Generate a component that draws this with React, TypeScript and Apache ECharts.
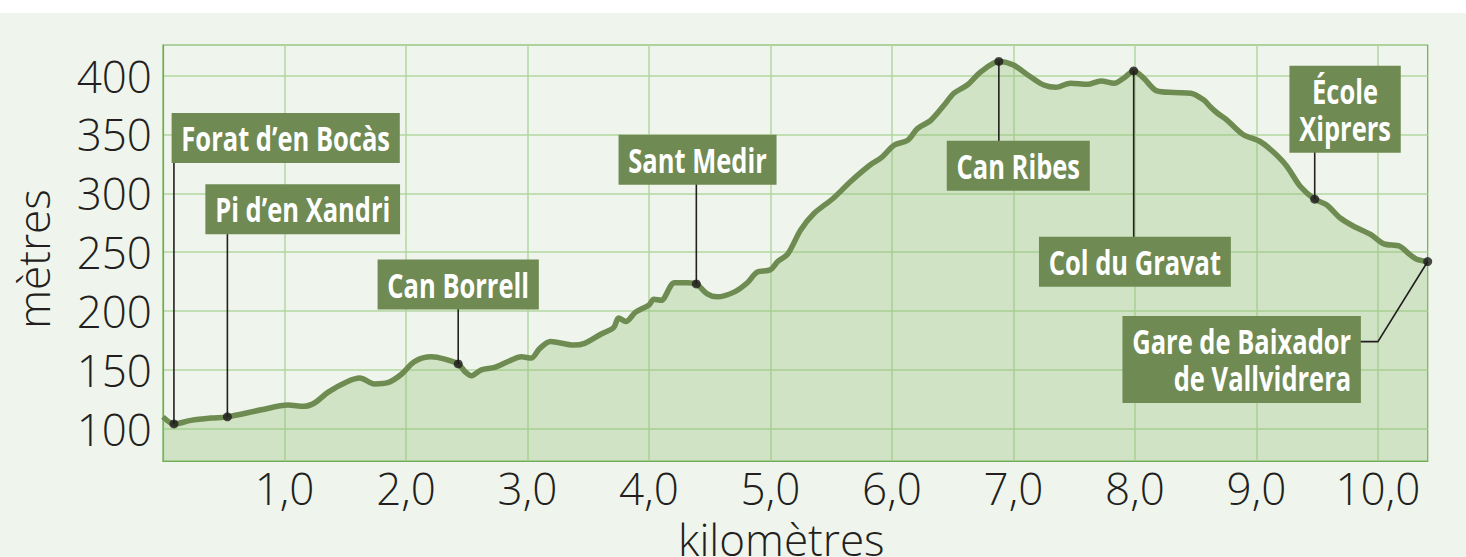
import React, { useEffect, useRef } from 'react';
import * as echarts from 'echarts';

// Elevation profile (km, metres)
const distanceKm = [
  0.0, 0.09, 0.23, 0.40, 0.53, 0.81, 1.03, 1.16, 1.25, 1.36,
  1.52, 1.62, 1.74, 1.85, 1.96, 2.07, 2.21, 2.32, 2.43, 2.49,
  2.54, 2.62, 2.73, 2.84, 2.95, 3.03, 3.10, 3.19, 3.38, 3.47,
  3.60, 3.71, 3.75, 3.81, 3.89, 4.00, 4.04, 4.10, 4.21, 4.32,
  4.39, 4.48, 4.56, 4.70, 4.81, 4.89, 5.00, 5.06, 5.14, 5.25,
  5.36, 5.52, 5.66, 5.82, 5.91, 6.02, 6.13, 6.21, 6.32, 6.43,
  6.51, 6.62, 6.73, 6.88, 7.00, 7.14, 7.25, 7.35, 7.47, 7.61,
  7.72, 7.83, 7.91, 7.99, 8.07, 8.18, 8.32, 8.46, 8.57, 8.62,
  8.68, 8.76, 8.89, 9.03, 9.14, 9.25, 9.36, 9.48, 9.58, 9.69,
  9.80, 9.94, 10.05, 10.18, 10.25, 10.32, 10.41,
];
const elevationM = [
  110, 104, 107, 109, 110, 116, 120, 119, 122, 131,
  140, 143, 138, 139, 146, 157, 161, 159, 155, 148,
  145, 150, 152, 157, 161, 160, 168, 174, 171, 172.5,
  180, 186, 194, 191, 199, 205, 210, 209, 224, 224,
  223, 214.5, 212, 216, 224, 233, 235, 242, 248, 269,
  283, 296, 310, 324, 330, 341, 345, 355, 362, 375,
  385, 392, 403, 412, 409, 399, 392, 390, 393.5, 392.6,
  395.5, 393.5, 398, 404, 398, 387, 385.6, 385, 379, 373.6,
  368, 362, 350, 344, 335, 323, 306, 295, 290, 279,
  272, 265, 257, 255, 249, 244, 242,
];

const xTickValues = [1, 2, 3, 4, 5, 6, 7, 8, 9, 10];
const yTickValues = [100, 150, 200, 250, 300, 350, 400];

// Places along the route
const placeNames = [
  'Forat d’en Bocàs',
  'Pi d’en Xandri',
  'Can Borrell',
  'Sant Medir',
  'Can Ribes',
  'Col du Gravat',
  'École\nXiprers',
  'Gare de Baixador\nde Vallvidrera',
];
const placeKm = [0.09, 0.53, 2.43, 4.39, 6.88, 7.99, 9.48, 10.41];
const placeElev = [104, 110, 155, 223, 412, 404, 295, 242];
// label anchor (data coordinates)
const labelKm = [1.01, 1.15, 2.43, 4.40, 7.04, 8.0, 9.73, 9.86];
const labelElev = [347, 286.5, 222.4, 328.4, 323.3, 241.8, 371.3, 158.8];
const labelAlign = ['center', 'center', 'center', 'center', 'center', 'center', 'center', 'right'];
const elbowKm: (number | null)[] = [null, null, null, null, null, null, null, 10.0];
const elbowElev: (number | null)[] = [null, null, null, null, null, null, null, 173.9];

const LINE_GREEN = '#6E8B52';
const BOX_GREEN = '#6F8A52';
const GRID_GREEN = '#B3D6A0';
const FRAME_GREEN = '#6FAD55';
const BG = '#EFF5EC';
const AXIS_FONT = "'Open Sans', 'Noto Sans', sans-serif";
const LABEL_FONT = "'Open Sans', 'Noto Sans', sans-serif";
const LABEL_SCALE_X = 0.75;

export default function App() {
  const ref = useRef<HTMLDivElement>(null);
  useEffect(() => {
    document.body.style.margin = '0';
    const chart = echarts.init(ref.current!, null, { renderer: 'svg' });
    const profile = distanceKm.map((d, i) => [d, elevationM[i]]);
    const places = placeKm.map((d, i) => [d, placeElev[i], labelKm[i], labelElev[i]]);
    chart.setOption({
      animation: false,
      backgroundColor: BG,
      grid: {
        left: 163,
        right: 38.3,
        top: 32,
        bottom: 96,
        outerBoundsMode: 'none',
        containLabel: false,
        show: true,
        borderColor: FRAME_GREEN,
        borderWidth: 1.2,
        backgroundColor: 'transparent',
      },
      xAxis: {
        type: 'value',
        min: 0,
        max: 10.41,
        name: 'kilomètres',
        nameLocation: 'middle',
        nameGap: 60,
        nameTextStyle: {
          fontFamily: AXIS_FONT,
          fontWeight: 300,
          fontSize: 44,
          lineHeight: 36,
          color: '#231F20',
          padding: [0, 28, 0, 0],
        },
        axisLine: { show: true, lineStyle: { color: FRAME_GREEN, width: 1.2 } },
        axisTick: { show: false, customValues: xTickValues },
        axisLabel: {
          customValues: xTickValues,
          formatter: (v: number) => v.toFixed(1).replace('.', ','),
          fontFamily: AXIS_FONT,
          fontWeight: 300,
          fontSize: 44,
          lineHeight: 36,
          color: '#231F20',
          margin: 9,
        },
        splitLine: { show: true, lineStyle: { color: GRID_GREEN, width: 1.5 } },
      },
      yAxis: {
        type: 'value',
        min: 72.5,
        max: 426,
        name: 'mètres',
        nameLocation: 'middle',
        nameGap: 108,
        nameRotate: 90,
        nameTextStyle: {
          fontFamily: AXIS_FONT,
          fontWeight: 300,
          fontSize: 44,
          color: '#231F20',
          padding: [0, 12, 0, 0],
        },
        axisLine: { show: true, lineStyle: { color: FRAME_GREEN, width: 1.2 } },
        axisTick: { show: false, customValues: yTickValues },
        axisLabel: {
          customValues: yTickValues,
          fontFamily: AXIS_FONT,
          fontWeight: 300,
          fontSize: 44,
          color: '#231F20',
          margin: 11,
        },
        splitLine: { show: true, lineStyle: { color: GRID_GREEN, width: 1.5 } },
      },
      series: [
        {
          type: 'line',
          data: profile,
          smooth: 0.3,
          symbol: 'none',
          lineStyle: { color: LINE_GREEN, width: 5.5 },
          areaStyle: { color: 'rgba(148,194,122,0.48)', origin: 'start' },
          z: 2,
        },
        {
          type: 'custom',
          clip: false,
          z: 3,
          data: places,
          renderItem: (params: any, api: any) => {
            const i = params.dataIndex;
            const dot = api.coord([api.value(0), api.value(1)]);
            const lab = api.coord([api.value(2), api.value(3)]);
            let points: number[][];
            if (elbowKm[i] != null) {
              const el = api.coord([elbowKm[i], elbowElev[i]]);
              points = [dot, el, [lab[0] - 4, el[1]]];
            } else {
              points = [dot, [dot[0], lab[1]]];
            }
            return {
              type: 'group',
              children: [
                {
                  type: 'polyline',
                  shape: { points },
                  style: { stroke: '#231F20', lineWidth: 1.6, fill: null },
                },
                {
                  type: 'text',
                  x: lab[0],
                  y: lab[1],
                  scaleX: LABEL_SCALE_X,
                  style: {
                    text: placeNames[i],
                    fill: '#FFFFFF',
                    fontFamily: LABEL_FONT,
                    fontWeight: 'bold',
                    fontSize: 34,
                    lineHeight: 37,
                    align: labelAlign[i],
                    verticalAlign: 'middle',
                    backgroundColor: BOX_GREEN,
                    padding: [7, 13, 6, 13],
                  },
                },
              ],
            };
          },
        },
        {
          type: 'scatter',
          data: placeKm.map((d, i) => [d, placeElev[i]]),
          symbol: 'circle',
          symbolSize: 9,
          itemStyle: { color: '#1E1A1B' },
          z: 4,
        },
      ],
    });
    return () => chart.dispose();
  }, []);
  return (
    <div style={{ width: 1466, height: 557, background: '#FFFFFF', paddingTop: 13, boxSizing: 'border-box' }}>
      <div ref={ref} style={{ width: 1466, height: 544 }} />
    </div>
  );
}
